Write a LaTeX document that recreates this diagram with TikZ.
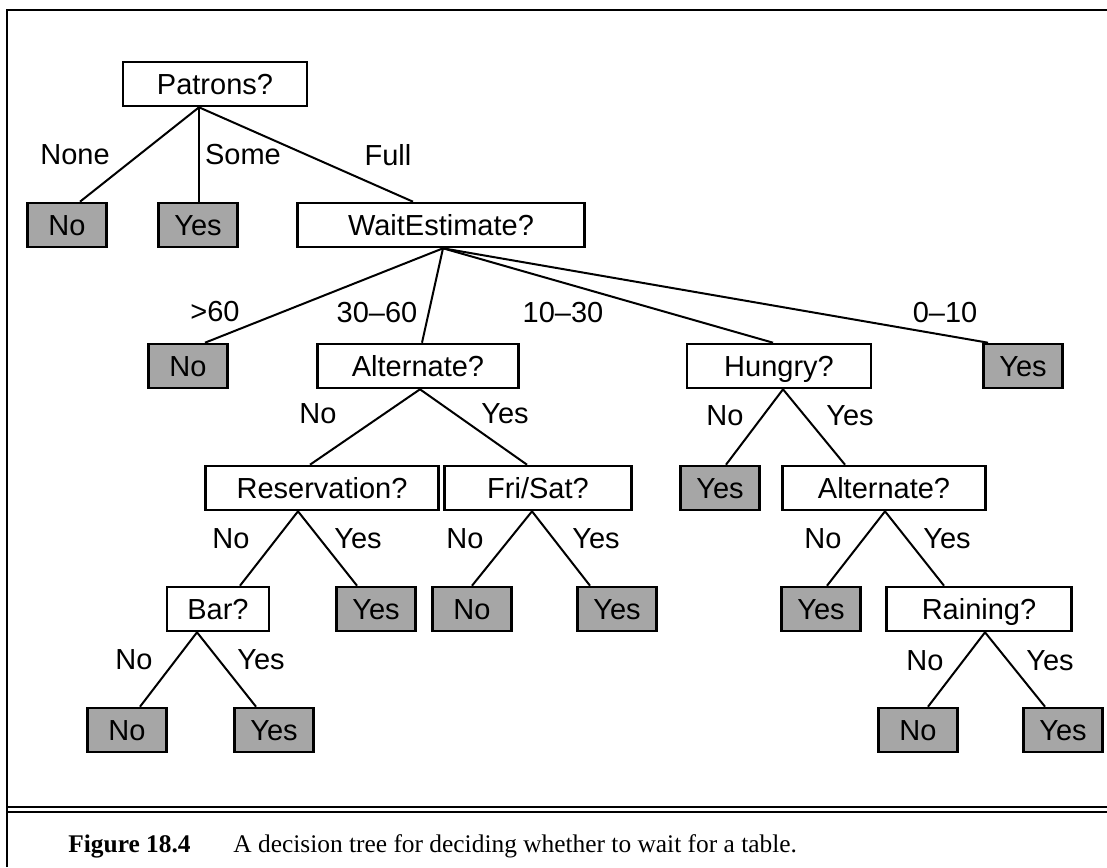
\documentclass[tikz,border=0pt]{standalone}
\usepackage{fontspec}
\setmainfont{Liberation Sans}
\newfontfamily\capfont{Liberation Serif}
\usepackage{tikz}

\tikzset{
  test/.style={draw, line width=1.3pt, fill=white, inner sep=0pt, minimum height=22pt, text height=10.4pt, text depth=0.4pt},
  leaf/.style={draw, line width=1.3pt, fill=black!35, inner sep=0pt, minimum height=22pt, minimum width=39.5pt, text height=10.4pt, text depth=0.4pt},
  branch/.style={line width=1pt},
  val/.style={inner sep=0pt, text height=10.4pt, text depth=0.4pt}
}

\begin{document}
\begin{tikzpicture}[x=0.5pt, y=-0.5pt, font=\fontsize{14.5}{17}\selectfont]
\useasboundingbox (0,0) rectangle (1107,867);
\draw [line width=1pt] (7,867)--(7,10)--(1107,10);
\draw [line width=0.8pt] (7,807)--(1107,807);
\draw [line width=0.8pt] (7,812)--(1107,812);

\node [test, minimum width=92pt] (pat) at (215,84) {Patrons?};
\node [leaf] (no1) at (67,225) {No};
\node [leaf] (yes1) at (198,225) {Yes};
\node [test, minimum width=143.5pt] (wait) at (441,225) {WaitEstimate?};
\node [leaf] (no2) at (188,366) {No};
\node [test, minimum width=100.5pt] (alt1) at (418,366) {Alternate?};
\node [test, minimum width=92pt] (hun) at (779,366) {Hungry?};
\node [leaf] (yes2) at (1023,366) {Yes};
\node [test, minimum width=116.5pt] (res) at (322,488) {Reservation?};
\node [test, minimum width=93.5pt] (fri) at (538,488) {Fri/Sat?};
\node [leaf] (yes3) at (720,488) {Yes};
\node [test, minimum width=101.5pt] (alt2) at (884,488) {Alternate?};
\node [test, minimum width=51pt] (bar) at (218,609) {Bar?};
\node [leaf] (yes4) at (376,609) {Yes};
\node [leaf] (no4) at (472,609) {No};
\node [leaf] (yes5) at (617,609) {Yes};
\node [leaf] (yes6) at (821,609) {Yes};
\node [test, minimum width=92.5pt] (rain) at (979,609) {Raining?};
\node [leaf] (no7) at (127,730) {No};
\node [leaf] (yes7) at (274,730) {Yes};
\node [leaf] (no8) at (918,730) {No};
\node [leaf] (yes8) at (1063,730) {Yes};

\draw [branch] ([xshift=-8pt]pat.south)--([xshift=6.5pt]no1.north);
\draw [branch] ([xshift=-8pt]pat.south)--([xshift=0.5pt]yes1.north);
\draw [branch] ([xshift=-8pt]pat.south)--([xshift=-14pt]wait.north);
\draw [branch] ([xshift=1pt]wait.south)--([xshift=8.5pt]no2.north);
\draw [branch] ([xshift=1pt]wait.south)--([xshift=2pt]alt1.north);
\draw [branch] ([xshift=1pt]wait.south)--([xshift=-3pt]hun.north);
\draw [branch] ([xshift=1pt]wait.south)--([xshift=-17.5pt]yes2.north);
\draw [branch] ([xshift=1pt]alt1.south)--([xshift=-6pt]res.north);
\draw [branch] ([xshift=1pt]alt1.south)--([xshift=-5.5pt]fri.north);
\draw [branch] ([xshift=-12pt]res.south)--([xshift=11pt]bar.north);
\draw [branch] ([xshift=-12pt]res.south)--([xshift=-9.5pt]yes4.north);
\draw [branch] ([xshift=-3pt]fri.south)--(no4.north);
\draw [branch] ([xshift=-3pt]fri.south)--([xshift=-13.5pt]yes5.north);
\draw [branch] ([xshift=2pt]hun.south)--([xshift=3pt]yes3.north);
\draw [branch] ([xshift=2pt]hun.south)--([xshift=-19.5pt]alt2.north);
\draw [branch] ([xshift=0.5pt]alt2.south)--([xshift=3pt]yes6.north);
\draw [branch] ([xshift=0.5pt]alt2.south)--([xshift=-17.5pt]rain.north);
\draw [branch] ([xshift=-10.5pt]bar.south)--([xshift=6.5pt]no7.north);
\draw [branch] ([xshift=-10.5pt]bar.south)--([xshift=-9pt]yes7.north);
\draw [branch] ([xshift=3pt]rain.south)--([xshift=5pt]no8.north);
\draw [branch] ([xshift=3pt]rain.south)--([xshift=-9pt]yes8.north);

\node [val] (lnone) at (75,154) {None};
\node [val] (lsome) at (243,154) {Some};
\node [val] (lfull) at (388,155) {Full};
\node [val] (lsixty) at (215,311) {>60};
\node [val] (lthirty) at (377,312) {30–60};
\node [val] (lten) at (563,312) {10–30};
\node [val] (lzero) at (945,312) {0–10};
\node [val] (la1no) at (318,413) {No};
\node [val] (la1yes) at (505,413) {Yes};
\node [val] (lhno) at (725,415) {No};
\node [val] (lhyes) at (850,415) {Yes};
\node [val] (lrno) at (231,538) {No};
\node [val] (lryes) at (358,538) {Yes};
\node [val] (lfno) at (465,538) {No};
\node [val] (lfyes) at (596,538) {Yes};
\node [val] (la2no) at (823,538) {No};
\node [val] (la2yes) at (947,538) {Yes};
\node [val] (lbno) at (134,659) {No};
\node [val] (lbyes) at (261,659) {Yes};
\node [val] (lrnno) at (925,660) {No};
\node [val] (lrnyes) at (1050,660) {Yes};

\node [anchor=base west, inner sep=0pt, font=\capfont\fontsize{12.7}{15}\selectfont] (fig) at (68,852) {\textbf{Figure 18.4}};
\node [anchor=base west, inner sep=0pt, font=\capfont\fontsize{12.7}{15}\selectfont] (cap) at (233,852) {A decision tree for deciding whether to wait for a table.};
\end{tikzpicture}
\end{document}
